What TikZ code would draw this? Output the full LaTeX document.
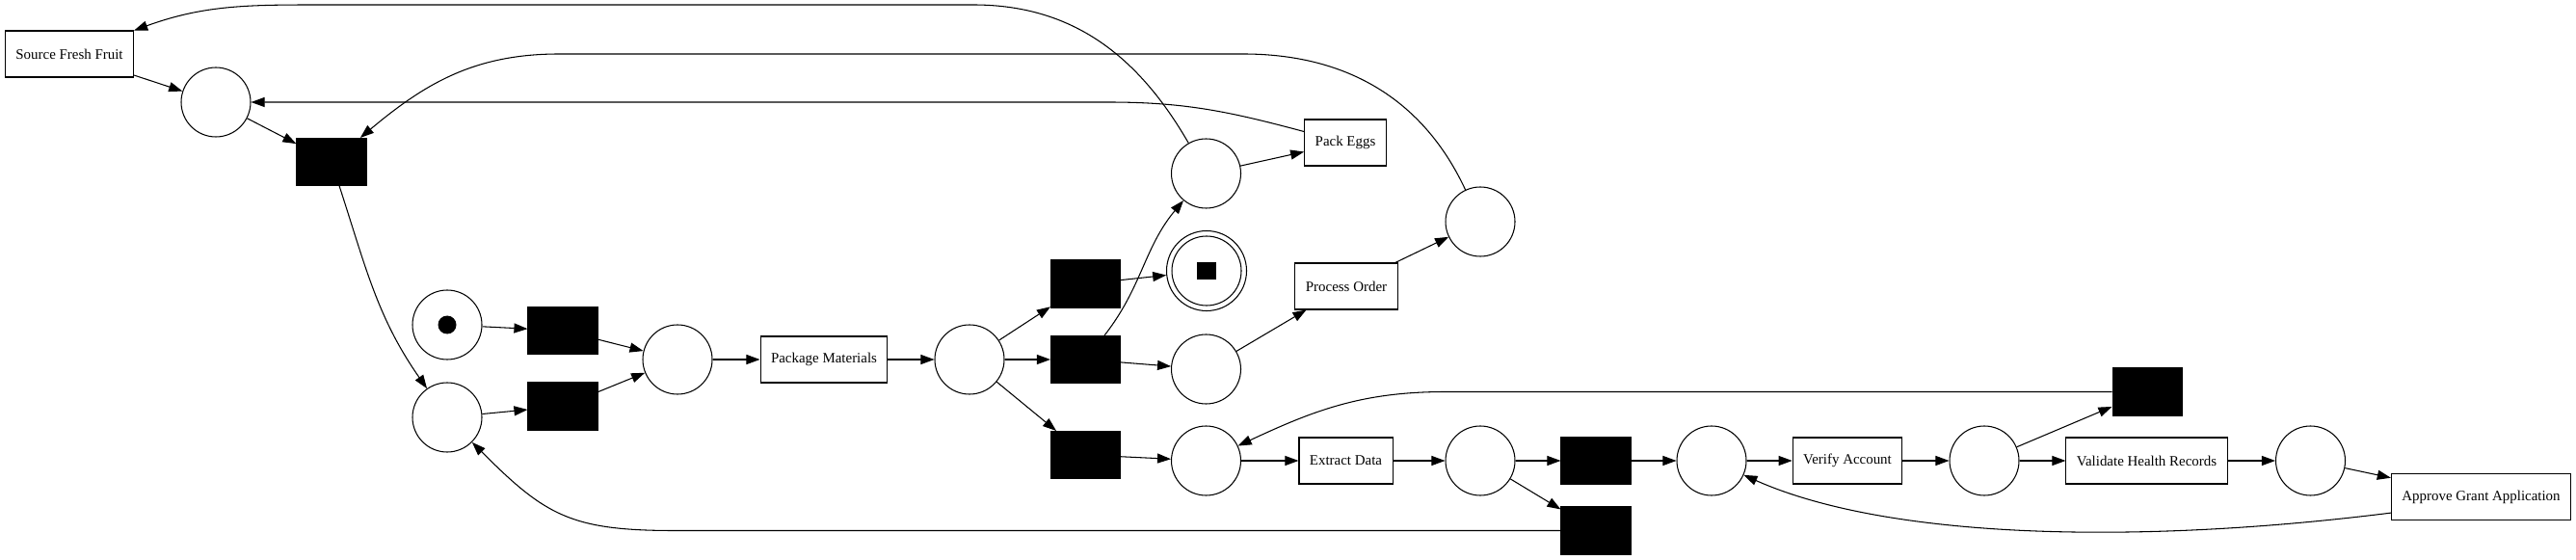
\documentclass[tikz,border=0pt]{standalone}
\usepackage{fontspec}
\setmainfont{Liberation Serif}
\usetikzlibrary{arrows.meta}

\begin{document}
\begin{tikzpicture}[x=2cm, y=2cm, line width=0.6pt, >={Triangle[length=8pt, width=5.7pt]},
		every node/.style={font=\fontsize{8.5}{10}\selectfont},
		place/.style={draw, circle, minimum size=1.44cm, inner sep=0pt},
		silent/.style={draw, fill=black, minimum width=1.44cm, minimum height=0.98cm, inner sep=0pt},
		task/.style={draw, minimum height=0.96cm, inner xsep=0.22cm},
		flow/.style={->}]
			\useasboundingbox (0, 0) rectangle (26.73, 5.80);
			
			\node[task] (fruit) at (0.72, 5.24) {Source Fresh Fruit};
			\node[place] (p1) at (2.24, 4.74) {};
			\node[silent] (t1) at (3.44, 4.12) {};
			\node[place] (start) at (4.64, 2.43) {};
			\node[circle, fill, minimum size=0.38cm, inner sep=0pt] (token) at (start) {};
			\node[silent] (t2) at (5.84, 2.37) {};
			\node[place] (p2) at (4.64, 1.47) {};
			\node[silent] (t3) at (5.84, 1.585) {};
			\node[place] (p3) at (7.03, 2.07) {};
			\node[task] (pack) at (8.55, 2.07) {Package Materials};
			\node[place] (p4) at (10.06, 2.07) {};
			\node[silent] (t4) at (11.265, 2.855) {};
			\node[silent] (t5) at (11.265, 2.07) {};
			\node[silent] (t6) at (11.265, 1.08) {};
			\node[place] (p5) at (12.515, 4.00) {};
			\node[draw, circle, minimum size=1.66cm, inner sep=0pt] (sink) at (12.52, 2.99) {};
			\draw (sink) circle[radius=0.72cm];
			\node[fill, minimum width=0.4cm, minimum height=0.36cm, inner sep=0pt] (stop) at (sink) {};
			\node[place] (p6) at (12.515, 1.97) {};
			\node[task] (eggs) at (13.96, 4.32) {Pack Eggs};
			\node[task] (order) at (13.97, 2.83) {Process Order};
			\node[place] (p7) at (15.36, 3.50) {};
			\node[place] (p8) at (12.515, 1.02) {};
			\node[task] (extract) at (13.965, 1.02) {Extract Data};
			\node[place] (p9) at (15.36, 1.02) {};
			\node[silent] (t7) at (16.56, 1.02) {};
			\node[silent] (t8) at (16.56, 0.295) {};
			\node[place] (p10) at (17.76, 1.02) {};
			\node[task] (verify) at (19.17, 1.02) {Verify Account};
			\node[place] (p11) at (20.59, 1.02) {};
			\node[task] (validate) at (22.275, 1.02) {Validate Health Records};
			\node[place] (p12) at (23.975, 1.02) {};
			\node[task] (approve) at (25.745, 0.644) {Approve Grant Application};
			\node[silent] (t9) at (22.28, 1.735) {};
			
			\foreach \a/\b in {fruit/p1, p1/t1, start/t2, t2/p3, p2/t3, t3/p3, p3/pack, pack/p4,
				p4/t4, p4/t5, p4/t6, t4/sink, t5/p6, t6/p8, p5/eggs, p6/order, order/p7,
				p8/extract, extract/p9, p9/t7, p9/t8, t7/p10, p10/verify, verify/p11,
				p11/validate, p11/t9, validate/p12, p12/approve}{
			\draw[flow] (\a) -- (\b);}
			
			\draw[flow] (t1) to[out=-72, in=125] (p2);
			\draw[flow] (t5) to[out=52, in=-130] (p5);
			\draw[flow] (p5) to[out=120, in=0] (10.1, 5.75) -- (3.4, 5.75) to[out=180, in=20] (fruit);
			\draw[flow] (eggs) to[out=165, in=0] (11.5, 4.74) -- (p1);
			\draw[flow] (p7) to[out=115, in=0] (12.9, 5.24) -- (5.8, 5.24) to[out=180, in=40] (t1);
			\draw[flow] (t8) -- (7.0, 0.295) to[out=180, in=-45, looseness=1.2] (p2);
			\draw[flow] (t9) -- (15.0, 1.735) to[out=180, in=25] (p8);
			\draw[flow] (approve.190) .. controls (22.2, 0.15) and (19.6, 0.2) .. (p10);
		\end{tikzpicture}
\end{document}
